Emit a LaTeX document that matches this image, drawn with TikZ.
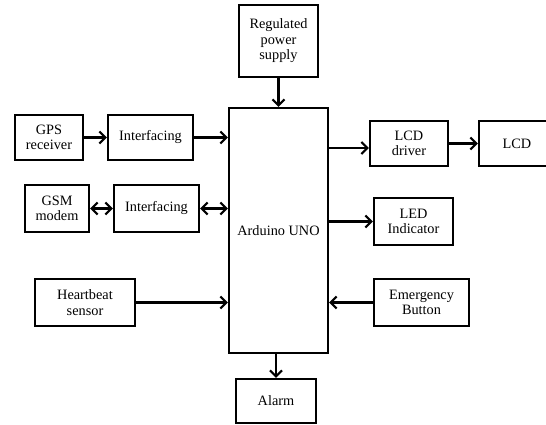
\documentclass[tikz,border=0pt]{standalone}
\usepackage{fontspec}
\setmainfont{Liberation Serif}
\usetikzlibrary{arrows.meta}
\tikzset{
	blk/.style={draw, line width=2.2pt, align=center, inner sep=0pt, font=\fontsize{14.3}{15.5}\selectfont},
	arr/.style={line width=2.2pt, -{Straight Barb[length=6pt,width=12pt,line width=2.2pt]}},
	darr/.style={line width=2.2pt, {Straight Barb[length=6pt,width=12pt,line width=2.2pt]}-{Straight Barb[length=6pt,width=12pt,line width=2.2pt]}}
}

\begin{document}
\begin{tikzpicture}[x=1pt, y=-1pt]
			%%%%% START %%%%%
			\clip (0, 0) rectangle (546, 425);
			
			\node[blk, minimum width=99, minimum height=245] (uno) at (278.5, 230.5) {Arduino UNO};
			\node[blk, minimum width=79, minimum height=72] (psu) at (278.5, 41) {Regulated\\power\\supply};
			
			\node[blk, minimum width=68, minimum height=45] (gps) at (49, 137.5) {GPS\\receiver};
			\node[blk, minimum width=85, minimum height=45] (intfgps) at (150.5, 137.5) {Interfacing};
			
			\node[blk, minimum width=64, minimum height=47] (gsm) at (57, 208.5) {GSM\\modem};
			\node[blk, minimum width=85, minimum height=47] (intfgsm) at (156.5, 208.5) {Interfacing};
			
			\node[blk, minimum width=100, minimum height=47] (heart) at (85, 302.5) {Heartbeat\\sensor};
			
			\node[blk, minimum width=78, minimum height=45] (lcddrv) at (409, 143.5) {LCD\\driver};
			\node[blk, minimum width=76, minimum height=45] (lcd) at (517, 143.5) {LCD};
			
			\node[blk, minimum width=79, minimum height=47] (led) at (413.5, 221.5) {LED\\Indicator};
			\node[blk, minimum width=95, minimum height=47] (emerg) at (421.5, 302.5) {Emergency\\Button};
			
			\node[blk, minimum width=80, minimum height=44] (alarm) at (276, 401) {Alarm};
			
			\draw[arr] (psu.south) -- (uno.north);
			\draw[arr] (gps.east) -- (intfgps.west);
			\draw[arr] (intfgps.east) -- (intfgps.east -| uno.west);
			\draw[darr] (gsm.east) -- (intfgsm.west);
			\draw[darr] (intfgsm.east) -- (intfgsm.east -| uno.west);
			\draw[arr] (heart.east) -- (heart.east -| uno.west);
			
			\draw[arr] ([yshift=-4.5pt]lcddrv.west -| uno.east) -- ([yshift=-4.5pt]lcddrv.west);
			\draw[arr] (lcddrv.east) -- (lcd.west);
			\draw[arr] (led.west -| uno.east) -- (led.west);
			\draw[arr] (emerg.west) -- (emerg.west -| uno.east);
			
			\draw[arr] (uno.south -| alarm.north) -- (alarm.north);
			%%%%% END %%%%%
\end{tikzpicture}
\end{document}
